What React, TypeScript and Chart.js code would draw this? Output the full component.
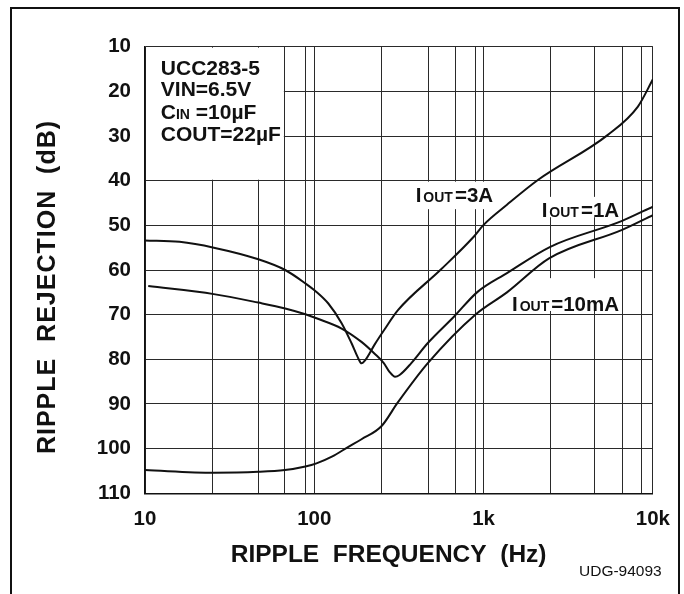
import React, { useEffect, useRef } from 'react';
import { Chart, registerables } from 'chart.js';

Chart.register(...registerables);

const FONT = '"Liberation Sans", Arial, Helvetica, sans-serif';

// ---- data ----
const freq3A = [10, 16, 25.5, 46.7, 67.3, 88.6, 103, 121, 145, 166, 182, 190, 200, 228, 258, 312, 559, 877, 1000, 1374, 2102, 5395, 8155, 10000];
const db3A = [53.4, 53.7, 55.0, 57.6, 60.0, 63.0, 64.9, 67.5, 71.9, 76.4, 79.8, 80.9, 80.2, 76.6, 73.5, 69.0, 59.9, 52.5, 49.9, 45.4, 39.8, 29.8, 23.4, 17.3];

const freq1A = [10.45, 25.5, 46.7, 67.3, 88.6, 103, 145, 190, 228, 258, 278, 300, 319, 373, 467, 670, 921, 1374, 2477, 6577, 10000];
const db1A = [63.6, 65.4, 67.3, 68.6, 69.9, 70.8, 73.1, 76.1, 78.8, 80.9, 82.8, 83.9, 83.5, 80.9, 76.4, 70.4, 64.9, 60.7, 54.8, 49.0, 45.8];

const freq10mA = [10, 25.5, 46.7, 67, 88.6, 103, 127, 159, 190, 249, 312, 467, 893, 1374, 2435, 6577, 10000];
const db10mA = [104.8, 105.4, 105.2, 104.8, 104.0, 103.3, 101.8, 99.6, 97.9, 95.0, 89.6, 80.9, 70.0, 65.0, 57.4, 51.0, 47.7];

const xGridValues = [10, 25, 47, 67, 89, 100, 250, 470, 680, 900, 1000, 2500, 4500, 6600, 8600, 10000];
const xLabelValues = [10, 100, 1000, 10000];
const xLabelTexts = ['10', '100', '1k', '10k'];
const yTickStep = 10;

const seriesNames = ['3A', '1A', '10mA'];
const infoLines = ['UCC283-5', 'VIN=6.5V', 'CIN =10µF', 'COUT=22µF'];
const xTitle = 'RIPPLE  FREQUENCY  (Hz)';
const yTitle = 'RIPPLE  REJECTION  (dB)';
const figureId = 'UDG-94093';

type Part = [string, boolean];

function drawParts(ctx: CanvasRenderingContext2D, x: number, yc: number, parts: Part[], big: number, small: number, gap: number) {
  let cx = x;
  const base = yc + 0.358 * big;
  for (const [t, isSmall] of parts) {
    ctx.font = `bold ${isSmall ? small : big}px ${FONT}`;
    ctx.fillText(t, cx, base);
    cx += ctx.measureText(t).width + gap;
  }
}

export default function App() {
  const ref = useRef<HTMLCanvasElement>(null);

  useEffect(() => {
    const canvas = ref.current;
    if (!canvas) return;
    const toPts = (xs: number[], ys: number[]) => xs.map((x, i) => ({ x, y: ys[i] }));

    const annot = {
      id: 'annot',
      beforeDatasetsDraw(chart: any) {
        const { ctx, chartArea } = chart;
        const xs = chart.scales.x;
        const ys = chart.scales.y;
        const X = (v: number) => xs.getPixelForValue(v);
        const Y = (v: number) => ys.getPixelForValue(v);
        ctx.save();
        ctx.fillStyle = '#fff';
        const boxes = [
          [10, 67, 10, 40],
          [334, 1202, 40, 46.6],
          [2004, 6490, 43.4, 48.4],
          [1338, 6490, 61.6, 69.4],
        ];
        for (const [a, b, c, d] of boxes) {
          const x0 = Math.max(X(a), chartArea.left) + 1;
          const x1 = Math.min(X(b), chartArea.right) - 1;
          const y0 = Math.max(Y(c), chartArea.top) + 1;
          const y1 = Y(d) - 1;
          ctx.fillRect(x0, y0, x1 - x0, y1 - y0);
        }
        ctx.fillStyle = '#111';
        ctx.textBaseline = 'alphabetic';
        ctx.textAlign = 'left';
        // info block
        const infoX = X(12.4);
        const infoY = [14.6, 19.3, 24.4, 29.4];
        const infoParts: Part[][] = [
          [[infoLines[0], false]],
          [[infoLines[1], false]],
          [['C', false], ['IN', true], [infoLines[2].slice(3), false]],
          [[infoLines[3], false]],
        ];
        infoParts.forEach((p, i) => drawParts(ctx, infoX, Y(infoY[i]), p, 21, 14, 0));
        // curve labels
        const lbl = [
          [397, 43.2],
          [2203, 46.6],
          [1471, 67.5],
        ];
        seriesNames.forEach((n, i) => {
          drawParts(ctx, X(lbl[i][0]), Y(lbl[i][1]), [['I', false], ['OUT', true], ['=' + n, false]], 20.5, 14, 2);
        });
        ctx.restore();
      },
      afterDraw(chart: any) {
        const { ctx } = chart;
        ctx.save();
        ctx.fillStyle = '#111';
        ctx.textBaseline = 'alphabetic';
        ctx.textAlign = 'center';
        ctx.font = `bold 24.5px ${FONT}`;
        ctx.fillText(xTitle, 388.6, 553 + 0.358 * 24.5);
        ctx.save();
        ctx.translate(46, 287);
        ctx.rotate(-Math.PI / 2);
        ctx.font = `bold 25px ${FONT}`;
        (ctx as any).letterSpacing = '1px';
        ctx.fillText(yTitle, 0, 0.358 * 25);
        (ctx as any).letterSpacing = '0px';
        ctx.restore();
        ctx.textAlign = 'left';
        ctx.font = `15.5px ${FONT}`;
        ctx.fillText(figureId, 579, 570 + 0.358 * 15.5);
        ctx.restore();
      },
    };

    const lineDs = (data: any[]) => ({
      data,
      borderColor: '#111',
      borderWidth: 2,
      pointRadius: 0,
      fill: false,
      cubicInterpolationMode: 'monotone' as const,
    });

    const chart = new Chart(canvas, {
      type: 'line',
      data: {
        datasets: [
          lineDs(toPts(freq3A, db3A)),
          lineDs(toPts(freq1A, db1A)),
          lineDs(toPts(freq10mA, db10mA)),
        ],
      },
      options: {
        responsive: false,
        animation: false,
        events: [],
        layout: { padding: { top: 46.7, right: 27, bottom: 0, left: 0 } },
        plugins: { legend: { display: false }, tooltip: { enabled: false }, title: { display: false } },
        scales: {
          x: {
            type: 'logarithmic',
            min: 10,
            max: 10000,
            afterBuildTicks: (s: any) => {
              s.ticks = xGridValues.map((value) => ({ value }));
            },
            afterFit: (s: any) => {
              s.height = 594 - 493.3;
            },
            ticks: {
              autoSkip: false,
              maxRotation: 0,
              minRotation: 0,
              padding: 14,
              color: '#111',
              font: { family: FONT, size: 20.5, weight: 'bold' },
              callback: (v: any) => {
                const i = xLabelValues.indexOf(Number(v));
                return i >= 0 ? xLabelTexts[i] : '';
              },
            },
            grid: { color: '#2a2a2a', lineWidth: 1, drawTicks: false },
            border: { color: '#111', width: 1.5 },
          },
          y: {
            type: 'linear',
            min: 10,
            max: 110,
            reverse: true,
            afterFit: (s: any) => {
              s.width = 145;
            },
            ticks: {
              stepSize: yTickStep,
              padding: 14,
              color: '#111',
              font: { family: FONT, size: 20.5, weight: 'bold' },
            },
            grid: { color: '#2a2a2a', lineWidth: 1, drawTicks: false },
            border: { color: '#111', width: 1.5 },
          },
        },
      } as any,
      plugins: [annot],
    });
    return () => chart.destroy();
  }, []);

  return (
    <div style={{ position: 'fixed', left: 0, top: 0, width: 684, height: 594, overflow: 'hidden', background: '#fff' }}>
      <canvas ref={ref} width={684} height={594} style={{ position: 'absolute', left: 0, top: 0, width: 684, height: 594 }} />
      <div
        style={{
          position: 'absolute',
          left: 10,
          top: 7,
          width: 670,
          height: 700,
          boxSizing: 'border-box',
          borderTop: '2.5px solid #111',
          borderLeft: '2.5px solid #111',
          borderRight: '2.5px solid #111',
          pointerEvents: 'none',
        }}
      />
    </div>
  );
}
